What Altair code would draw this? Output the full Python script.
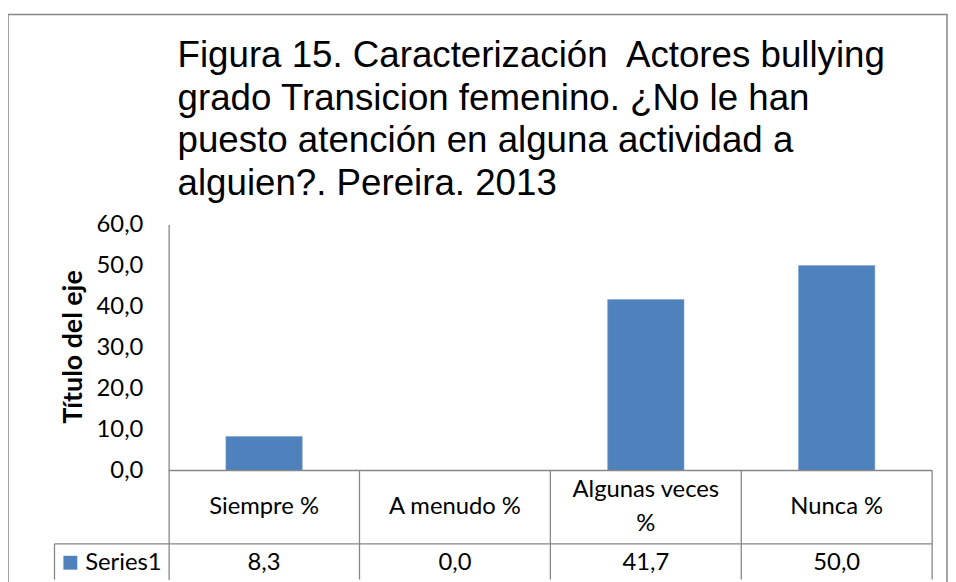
import altair as alt
import pandas as pd

# ---- data ----
categories = ["Siempre %", "A menudo %", "Algunas veces %", "Nunca %"]
values = [8.3, 0.0, 41.7, 50.0]
series_name = "Series1"
y_ticks = [0, 10, 20, 30, 40, 50, 60]
title_lines = [
    "Figura 15. Caracterización\u00a0 Actores bullying",
    "grado Transicion femenino. ¿No le han",
    "puesto atención en alguna actividad a",
    "alguien?. Pereira. 2013",
]

# ---- layout constants (table geometry in scale units) ----
Y_MAX = 60
Y_MIN = -26.61
PX_PER_UNIT = 248 / 60
ROW_SEP = -17.9
HEADER_MID = -8.95
VALUE_MID = -22.5
LEG_LEFT = -0.598
N = len(categories)
HDR_LH = 34

GRAY = "#878787"
BLUE = "#4F81BD"
FONT = "Lato"
FS = 24


def wrap(s):
    if len(s) > 12:
        i = s.rfind(" ")
        return s[:i] + "\n" + s[i + 1:]
    return s


df = pd.DataFrame({
    "idx": list(range(N)),
    "cat": categories,
    "val": values,
})
df["x0"] = df["idx"] + 0.3
df["x1"] = df["idx"] + 0.7
df["xc"] = df["idx"] + 0.5
df["zero"] = 0.0
df["label"] = [wrap(c) for c in categories]
df["nl"] = df["label"].str.count("\n")
df["hy"] = HEADER_MID + df["nl"] * (HDR_LH / 2) / PX_PER_UNIT
df["vtxt"] = [f"{v:.1f}".replace(".", ",") for v in values]
df["vy"] = VALUE_MID

xscale = alt.Scale(domain=[0, N], nice=False, zero=False)
yscale = alt.Scale(domain=[Y_MIN, Y_MAX], nice=False, zero=False)

base = alt.Chart(df)

bars = base.mark_bar(color=BLUE, stroke="#7FA3CF", strokeWidth=0.6).encode(
    x=alt.X("x0:Q", scale=xscale, axis=None),
    x2="x1:Q",
    y=alt.Y(
        "val:Q",
        scale=yscale,
        axis=alt.Axis(
            values=y_ticks,
            labelExpr="replace(format(datum.value, '.1f'), '.', ',')",
            labelFont=FONT,
            labelFontSize=FS,
            labelColor="#000000",
            labelPadding=26,
            ticks=False,
            grid=False,
            domainColor=GRAY,
            domainWidth=1.3,
            title="Título del eje",
            titleFont=FONT,
            titleFontSize=27,
            titleFontWeight="bold",
            titleColor="#000000",
            titleAngle=-90,
            titleX=-96,
            titleY=123,
            titleAlign="center",
            titleBaseline="middle",
        ),
    ),
    y2="zero:Q",
)

# table lines
hlines = pd.DataFrame({
    "y": [0.0, ROW_SEP],
    "xa": [0.0, LEG_LEFT],
    "xb": [float(N), float(N)],
})
vlines = pd.DataFrame({
    "x": [float(i) for i in range(1, N + 1)] + [LEG_LEFT],
    "ya": [0.0] * N + [ROW_SEP],
    "yb": [Y_MIN] * (N + 1),
})

hrules = alt.Chart(hlines).mark_rule(color=GRAY, strokeWidth=1.3).encode(
    x=alt.X("xa:Q", scale=xscale), x2="xb:Q", y=alt.Y("y:Q", scale=yscale)
)
vrules = alt.Chart(vlines).mark_rule(color=GRAY, strokeWidth=1.3).encode(
    x=alt.X("x:Q", scale=xscale), y=alt.Y("ya:Q", scale=yscale), y2="yb:Q"
)

header = base.mark_text(font=FONT, fontSize=FS, color="#000000",
                        lineBreak="\n", lineHeight=HDR_LH, baseline="middle").encode(
    x=alt.X("xc:Q", scale=xscale), y=alt.Y("hy:Q", scale=yscale), text="label:N"
)
vals = base.mark_text(font=FONT, fontSize=FS, color="#000000", baseline="middle").encode(
    x=alt.X("xc:Q", scale=xscale), y=alt.Y("vy:Q", scale=yscale), text="vtxt:N"
)

leg_df = pd.DataFrame({"name": [series_name], "x": [LEG_LEFT], "y": [VALUE_MID]})
leg_sq = alt.Chart(leg_df).mark_square(color=BLUE, size=196, opacity=1, xOffset=16).encode(
    x=alt.X("x:Q", scale=xscale), y=alt.Y("y:Q", scale=yscale)
)
leg_tx = alt.Chart(leg_df).mark_text(font=FONT, fontSize=FS, color="#000000",
                                     align="left", baseline="middle", dx=31).encode(
    x=alt.X("x:Q", scale=xscale), y=alt.Y("y:Q", scale=yscale), text="name:N"
)

border = alt.Chart(alt.Data(values=[{"a": 1}])).mark_rect(
    fill="transparent", stroke=GRAY, strokeWidth=1.5
).encode(
    x=alt.value(-162), x2=alt.value(785), y=alt.value(-212), y2=alt.value(420)
)

title_df = pd.DataFrame({"t": ["\n".join(title_lines)]})
title = alt.Chart(title_df).mark_text(
    font="Liberation Sans", fontSize=37, color="#000000", align="left",
    baseline="alphabetic", lineBreak="\n", lineHeight=43
).encode(x=alt.value(9), y=alt.value(-159), text="t:N")

chart = alt.layer(border, bars, hrules, vrules, header, vals, leg_sq, leg_tx, title).properties(
    width=770,
    height=358,
    autosize=alt.AutoSizeParams(type="none"),
    padding={"left": 162, "top": 216, "right": 16, "bottom": 0},
).configure_view(stroke=None)

chart.save("out.html", embed_options={"renderer": "svg", "actions": False})
